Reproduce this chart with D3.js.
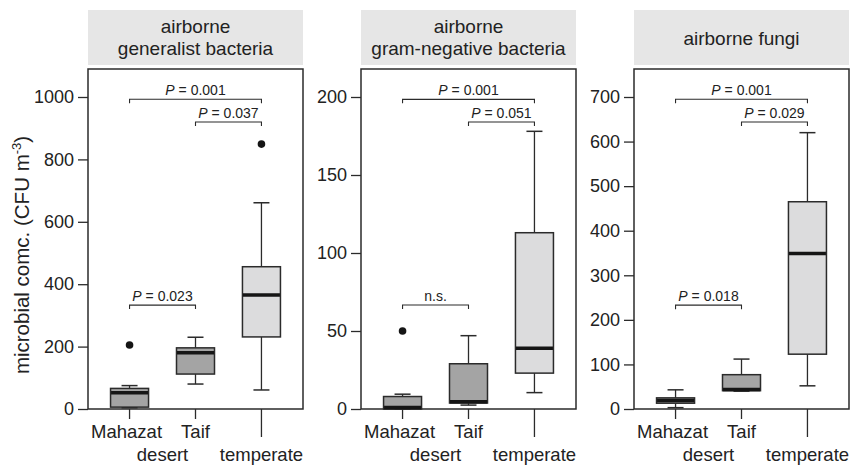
<!DOCTYPE html>
<html>
<head>
<meta charset="utf-8">
<script src="https://cdn.jsdelivr.net/npm/d3@7"></script>
<style>
  body { margin: 0; background: #fff; }
  svg { display: block; font-family: "Liberation Sans", Arial, Helvetica, sans-serif; }
</style>
</head>
<body>
<svg id="chart" width="853" height="465"></svg>
<script>
const categories = ["Mahazat desert", "Taif", "temperate"];
const panelTitles = [
  ["airborne", "generalist bacteria"],
  ["airborne", "gram-negative bacteria"],
  ["airborne fungi"]
];
const generalistTicks = [0, 200, 400, 600, 800, 1000];
const gramNegTicks = [0, 50, 100, 150, 200];
const fungiTicks = [0, 100, 200, 300, 400, 500, 600, 700];

// [lower whisker, Q1, median, Q3, upper whisker] per category
const generalistBoxes = [[4, 6, 52, 66, 75], [80, 112, 180, 196, 230], [61, 231, 365, 456, 661]];
const generalistOutliers = [[205], [], [849]];
const gramNegBoxes = [[0, 0, 1, 8, 9.5], [2.5, 3.8, 4.7, 29, 47], [10.5, 23, 39, 113, 178]];
const gramNegOutliers = [[50], [], []];
const fungiBoxes = [[3, 13, 19, 25, 43], [40, 41, 44, 77, 112], [52, 123, 349, 465, 620]];
const fungiOutliers = [[], [], []];

// pairwise tests: [from category, to category, bracket level, label]
const generalistTests = [[0, 2, 993, "0.001"], [1, 2, 920, "0.037"], [0, 1, 333, "0.023"]];
const gramNegTests = [[0, 2, 198.5, "0.001"], [1, 2, 184, "0.051"], [0, 1, 66.7, "n.s."]];
const fungiTests = [[0, 2, 695, "0.001"], [1, 2, 644, "0.029"], [0, 1, 233, "0.018"]];

const panels = [
  { title: panelTitles[0], ticks: generalistTicks, boxes: generalistBoxes, outliers: generalistOutliers, tests: generalistTests },
  { title: panelTitles[1], ticks: gramNegTicks, boxes: gramNegBoxes, outliers: gramNegOutliers, tests: gramNegTests },
  { title: panelTitles[2], ticks: fungiTicks, boxes: fungiBoxes, outliers: fungiOutliers, tests: fungiTests }
];

const svg = d3.select("#chart");
const panelWidth = 215;
const panelStep = 273;
const firstLeft = 88;
const frameTop = 69;
const frameBottom = 409;
const topTickY = 97;
const boxWidth = 38;
const capWidth = 16;
const ink = "#2b2b2b";
const boxFill = d3.scaleOrdinal().domain(categories).range(["#a4a4a4", "#a4a4a4", "#dcdcdd"]);

panels.forEach((p, i) => {
  const left = firstLeft + i * panelStep;
  const g = svg.append("g").attr("transform", `translate(${left},0)`);

  const xScale = d3.scalePoint()
    .domain(categories)
    .range([0, panelWidth])
    .padding(0.63);
  const yScale = d3.scaleLinear()
    .domain([0, d3.max(p.ticks)])
    .range([frameBottom, topTickY]);

  // Header strip
  g.append("rect")
    .attr("x", 0).attr("y", 10)
    .attr("width", panelWidth).attr("height", 55)
    .attr("fill", "#e6e6e6");
  const titleY = p.title.length > 1 ? [33, 55] : [45];
  p.title.forEach((line, k) => {
    g.append("text")
      .attr("x", panelWidth / 2).attr("y", titleY[k])
      .attr("text-anchor", "middle")
      .attr("font-size", 19)
      .attr("fill", "#222")
      .text(line);
  });

  // Frame
  g.append("path")
    .attr("d", `M0,${frameBottom}V${frameTop}H${panelWidth}V${frameBottom}Z`)
    .attr("fill", "none")
    .attr("stroke", ink)
    .attr("stroke-width", 1.5);

  // Y axis
  const leftAxis = d3.axisLeft(yScale)
    .tickValues(p.ticks)
    .tickSize(10)
    .tickPadding(4)
    .tickFormat(d3.format("d"));
  const axisG = g.append("g").attr("class", "axis-y").call(leftAxis);
  axisG.select(".domain").remove();
  axisG.selectAll("line").attr("stroke", ink).attr("stroke-width", 1.3);
  axisG.selectAll("text")
    .attr("font-size", 18)
    .attr("font-family", "Liberation Sans, Arial, sans-serif")
    .attr("fill", "#222");

  // X ticks and labels
  categories.forEach((c, k) => {
    const cx = xScale(c);
    g.append("line")
      .attr("x1", cx).attr("x2", cx)
      .attr("y1", frameBottom).attr("y2", k === 2 ? 437 : 419)
      .attr("stroke", ink).attr("stroke-width", 1.3);
  });
  const step = xScale.step();
  const xLabels = [
    [xScale(categories[0]) - 3, 438, "Mahazat"],
    [xScale(categories[0]) + step / 2, 461, "desert"],
    [xScale(categories[1]), 438, "Taif"],
    [xScale(categories[2]), 461, "temperate"]
  ];
  xLabels.forEach(([x, y, t]) => {
    g.append("text")
      .attr("x", x).attr("y", y)
      .attr("text-anchor", "middle")
      .attr("font-size", 18.5)
      .attr("fill", "#222")
      .text(t);
  });

  // Boxes
  p.boxes.forEach((b, k) => {
    const cx = xScale(categories[k]);
    const [lo, q1, med, q3, hi] = b;
    const bg = g.append("g");
    bg.append("line")
      .attr("x1", cx).attr("x2", cx)
      .attr("y1", yScale(hi)).attr("y2", yScale(q3))
      .attr("stroke", ink).attr("stroke-width", 1.3);
    bg.append("line")
      .attr("x1", cx).attr("x2", cx)
      .attr("y1", yScale(q1)).attr("y2", yScale(lo))
      .attr("stroke", ink).attr("stroke-width", 1.3);
    [hi, lo].forEach(v => {
      bg.append("line")
        .attr("x1", cx - capWidth / 2).attr("x2", cx + capWidth / 2)
        .attr("y1", yScale(v)).attr("y2", yScale(v))
        .attr("stroke", ink).attr("stroke-width", 1.5);
    });
    bg.append("rect")
      .attr("x", cx - boxWidth / 2)
      .attr("y", yScale(q3))
      .attr("width", boxWidth)
      .attr("height", Math.max(1, yScale(q1) - yScale(q3)))
      .attr("fill", boxFill(categories[k]))
      .attr("stroke", ink)
      .attr("stroke-width", 1.5);
    bg.append("line")
      .attr("x1", cx - boxWidth / 2 + 0.5).attr("x2", cx + boxWidth / 2 - 0.5)
      .attr("y1", yScale(med)).attr("y2", yScale(med))
      .attr("stroke", "#151515").attr("stroke-width", 3.5);

    g.selectAll(null)
      .data(p.outliers[k])
      .join("circle")
        .attr("cx", cx)
        .attr("cy", d => yScale(d))
        .attr("r", 3.8)
        .attr("fill", "#151515");
  });

  // Significance brackets
  p.tests.forEach(([a, b, level, label]) => {
    const x1 = xScale(categories[a]);
    const x2 = xScale(categories[b]);
    const y = yScale(level);
    g.append("path")
      .attr("d", `M${x1},${y + 4}V${y}H${x2}V${y + 4}`)
      .attr("fill", "none")
      .attr("stroke", ink)
      .attr("stroke-width", 1.1);
    const t = g.append("text")
      .attr("x", (x1 + x2) / 2).attr("y", y - 4)
      .attr("text-anchor", "middle")
      .attr("font-size", 14)
      .attr("fill", "#222");
    if (label === "n.s.") {
      t.text(label);
    } else {
      t.append("tspan").attr("font-style", "italic").text("P");
      t.append("tspan").text(` = ${label}`);
    }
  });
});

// Shared y-axis title
const yTitle = svg.append("text")
  .attr("transform", "translate(29,255) rotate(-90)")
  .attr("text-anchor", "middle")
  .attr("font-size", 20.5)
  .attr("fill", "#222");
yTitle.append("tspan").text("microbial comc. (CFU m");
yTitle.append("tspan").attr("font-size", 13).attr("dy", -8).text("-3");
yTitle.append("tspan").attr("dy", 8).text(")");
</script>
</body>
</html>
